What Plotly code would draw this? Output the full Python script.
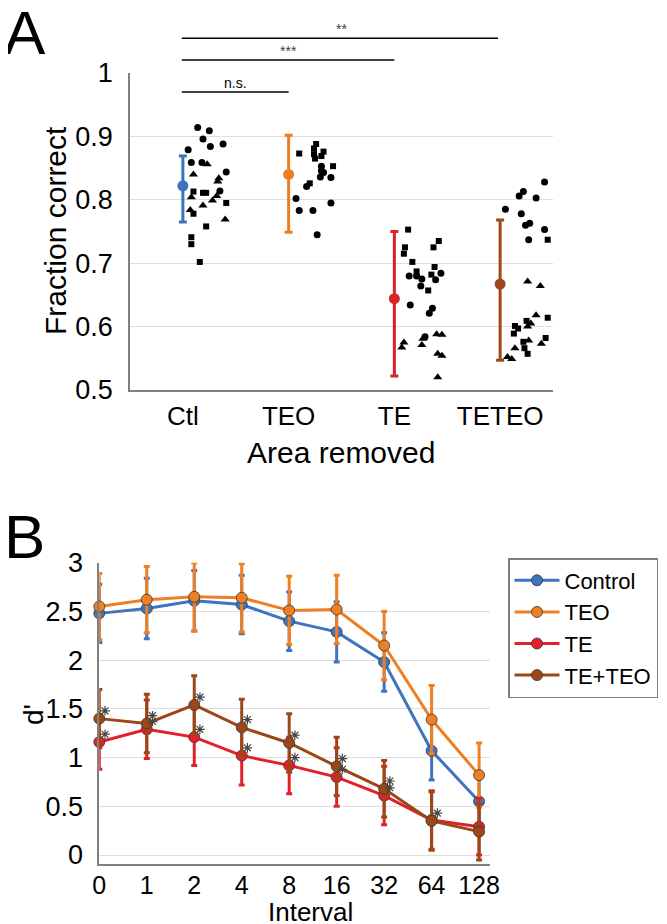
import plotly.graph_objects as go

# The page body has an 8px default margin, so the figure is drawn 8px in
# from the window's top-left corner; size it to fill the rest of the window.
PAGE_W, PAGE_H, BODY = 667, 924, 8
W, H = PAGE_W - BODY, PAGE_H - BODY
FONT = "Liberation Sans, Arial, sans-serif"

# ---------------- Panel A data ----------------
areas = ["Ctl", "TEO", "TE", "TETEO"]
area_means = [0.822, 0.840, 0.644, 0.667]
area_err_plus = [0.047, 0.062, 0.106, 0.101]
area_err_minus = [0.057, 0.091, 0.122, 0.120]
area_colors = ["#3d72bd", "#ee7d22", "#d8232a", "#a0461b"]

ctl_circle_off = [0.14, 0.25, 0.19, 0.26, 0.38, 0.05, 0.08, 0.18, 0.41, 0.35]
ctl_circle_val = [0.914, 0.909, 0.896, 0.884, 0.888, 0.879, 0.859, 0.859, 0.844, 0.814]
ctl_tri_off = [0.23, 0.10, 0.34, 0.33, 0.08, 0.32, 0.28, 0.19, 0.07, 0.40]
ctl_tri_val = [0.856, 0.840, 0.834, 0.829, 0.804, 0.806, 0.799, 0.791, 0.784, 0.769]
ctl_sq_off = [0.10, 0.19, 0.22, 0.41, 0.10, 0.22, 0.08, 0.08, 0.16]
ctl_sq_val = [0.813, 0.811, 0.811, 0.795, 0.778, 0.758, 0.741, 0.730, 0.702]

teo_sq_off = [0.26, 0.24, 0.33, 0.10, 0.24, 0.25, 0.31, 0.42, 0.20]
teo_sq_val = [0.888, 0.881, 0.876, 0.873, 0.872, 0.865, 0.869, 0.853, 0.826]
teo_circle_off = [0.31, 0.31, 0.33, 0.30, 0.40, 0.17, 0.07, 0.40, 0.10, 0.23, 0.27]
teo_circle_val = [0.853, 0.846, 0.843, 0.836, 0.835, 0.821, 0.802, 0.795, 0.783, 0.783, 0.745]

te_sq_off = [0.13, 0.10, 0.09, 0.37, 0.42, 0.17, 0.38, 0.21, 0.35, 0.32]
te_sq_val = [0.753, 0.725, 0.715, 0.725, 0.735, 0.702, 0.694, 0.687, 0.682, 0.657]
te_circle_off = [0.14, 0.21, 0.26, 0.25, 0.39, 0.44, 0.15, 0.36, 0.33, 0.29]
te_circle_val = [0.680, 0.680, 0.675, 0.664, 0.674, 0.684, 0.634, 0.629, 0.621, 0.584]
te_tri_off = [0.40, 0.45, 0.27, 0.09, 0.07, 0.26, 0.41, 0.45, 0.41]
te_tri_val = [0.588, 0.587, 0.581, 0.575, 0.567, 0.571, 0.557, 0.554, 0.520]

teteo_circle_off = [0.42, 0.22, 0.18, 0.34, 0.05, 0.20, 0.28, 0.24, 0.42, 0.27]
teteo_circle_val = [0.828, 0.813, 0.806, 0.803, 0.785, 0.778, 0.763, 0.760, 0.753, 0.737]
teteo_sq_off = [0.45, 0.45, 0.14, 0.17, 0.25, 0.13, 0.22, 0.43, 0.23, 0.26]
teteo_sq_val = [0.737, 0.614, 0.601, 0.597, 0.609, 0.589, 0.576, 0.582, 0.566, 0.557]
teteo_tri_off = [0.26, 0.38, 0.34, 0.29, 0.26, 0.27, 0.39, 0.14, 0.07, 0.11]
teteo_tri_val = [0.671, 0.664, 0.618, 0.605, 0.600, 0.578, 0.573, 0.566, 0.552, 0.549]

# significance comparisons (from category index, to category index, label)
sig_from = [0, 0, 0]
sig_to = [1, 2, 3]
sig_labels = ["n.s.", "***", "**"]

# ---------------- Panel B data ----------------
intervals = ["0", "1", "2", "4", "8", "16", "32", "64", "128"]
series_names = ["Control", "TEO", "TE", "TE+TEO"]
control = [2.48, 2.53, 2.61, 2.57, 2.40, 2.29, 1.98, 1.07, 0.55]
control_err = [0.30, 0.31, 0.31, 0.30, 0.30, 0.31, 0.30, 0.30, 0.30]
teo = [2.55, 2.62, 2.65, 2.64, 2.51, 2.52, 2.15, 1.39, 0.82]
teo_err = [0.34, 0.34, 0.35, 0.35, 0.35, 0.35, 0.35, 0.35, 0.33]
te = [1.16, 1.29, 1.21, 1.02, 0.92, 0.80, 0.61, 0.36, 0.29]
te_err = [0.28, 0.30, 0.29, 0.30, 0.29, 0.30, 0.30, 0.30, 0.29]
teteo = [1.40, 1.35, 1.54, 1.31, 1.15, 0.91, 0.68, 0.35, 0.24]
teteo_err = [0.30, 0.30, 0.30, 0.29, 0.30, 0.30, 0.29, 0.30, 0.29]
line_colors = ["#3f74c1", "#f07f22", "#e3202a", "#9c4717"]
# intervals (indices) where the lesion groups differ significantly from control
te_sig_idx = [0, 1, 2, 3, 4, 5, 6]
teteo_sig_idx = [0, 1, 2, 3, 4, 5, 6, 7]


def px_x(p):
    """page pixel x -> paper fraction"""
    return (p - BODY) / W


def px_y(p):
    """page pixel y (from top) -> paper fraction"""
    return 1 - (p - BODY) / H


fig = go.Figure()

# ---- Panel A: scatter points ----
groups = [
    (0, ctl_circle_off, ctl_circle_val, "circle", 7),
    (0, ctl_tri_off, ctl_tri_val, "triangle-up", 8),
    (0, ctl_sq_off, ctl_sq_val, "square", 6),
    (1, teo_sq_off, teo_sq_val, "square", 6),
    (1, teo_circle_off, teo_circle_val, "circle", 7),
    (2, te_sq_off, te_sq_val, "square", 6),
    (2, te_circle_off, te_circle_val, "circle", 7),
    (2, te_tri_off, te_tri_val, "triangle-up", 8),
    (3, teteo_circle_off, teteo_circle_val, "circle", 7),
    (3, teteo_sq_off, teteo_sq_val, "square", 6),
    (3, teteo_tri_off, teteo_tri_val, "triangle-up", 8),
]
for cat, offs, vals, sym, sz in groups:
    fig.add_trace(go.Scatter(
        x=[cat + o for o in offs], y=vals, mode="markers",
        marker=dict(symbol=sym, size=sz, color="black", line=dict(width=0)),
        showlegend=False, xaxis="x", yaxis="y", hoverinfo="skip"))

for i in range(len(areas)):
    fig.add_trace(go.Scatter(
        x=[i], y=[area_means[i]], mode="markers",
        marker=dict(size=11, color=area_colors[i]),
        error_y=dict(type="data", symmetric=False, array=[area_err_plus[i]],
                     arrayminus=[area_err_minus[i]], color=area_colors[i],
                     thickness=3, width=4),
        showlegend=False, xaxis="x", yaxis="y", cliponaxis=False))

# ---- Panel B: lines ----
series = [control, teo, te, teteo]
errs = [control_err, teo_err, te_err, teteo_err]
xidx = list(range(len(intervals)))
for name, vals, er, col in zip(series_names, series, errs, line_colors):
    fig.add_trace(go.Scatter(
        x=xidx, y=vals, mode="lines+markers", name=name,
        line=dict(color=col, width=3),
        marker=dict(size=11, color=col, line=dict(color="rgba(60,60,60,0.85)", width=1)),
        error_y=dict(type="data", array=er, color=col, thickness=3, width=3),
        xaxis="x2", yaxis="y2", cliponaxis=False))

star_x = [i + 0.12 for i in te_sig_idx] + [i + 0.12 for i in teteo_sig_idx]
star_y = [te[i] + 0.08 for i in te_sig_idx] + [teteo[i] + 0.08 for i in teteo_sig_idx]
fig.add_trace(go.Scatter(
    x=star_x, y=star_y, mode="markers",
    marker=dict(symbol="asterisk-open", size=8, color="#444",
                line=dict(color="#444", width=1.2)),
    showlegend=False, xaxis="x2", yaxis="y2", cliponaxis=False, hoverinfo="skip"))

# ---- significance bars panel A ----
shapes = []
annotations = []
bar_levels = [("y", 0.970), ("y domain", 1.041), ("y domain", 1.110)]
for (f, t, lab), (yr, yy) in zip(zip(sig_from, sig_to, sig_labels), bar_levels):
    shapes.append(dict(type="line", xref="x", yref=yr, x0=f - 0.01, x1=t - 0.02 * (t == 3),
                       y0=yy, y1=yy, line=dict(color="black", width=1.5)))
    annotations.append(dict(xref="x", yref=yr, x=(f + t) / 2, y=yy, text=lab,
                            showarrow=False, yanchor="bottom", yshift=-1,
                            font=dict(family=FONT, size=14,
                                      color="black" if lab == "n.s." else "#444")))

# axis titles and panel letters
annotations += [
    dict(xref="paper", yref="paper", x=0, y=1, text="A", showarrow=False,
         xanchor="left", yanchor="top", xshift=-6, yshift=12,
         font=dict(family=FONT, size=62, color="black")),
    dict(xref="paper", yref="paper", x=0, y=px_y(500), text="B", showarrow=False,
         xanchor="left", yanchor="top", xshift=-6,
         font=dict(family=FONT, size=62, color="black")),
    dict(xref="paper", yref="paper", x=px_x(55), y=px_y(231), text="Fraction correct",
         textangle=-90, showarrow=False, xanchor="center", yanchor="middle",
         font=dict(family=FONT, size=30, color="black")),
    dict(xref="paper", yref="paper", x=px_x(341), y=px_y(452), text="Area removed",
         showarrow=False, xanchor="center", yanchor="middle",
         font=dict(family=FONT, size=30, color="black")),
    dict(xref="paper", yref="paper", x=px_x(33), y=px_y(715), text="d'",
         textangle=-90, showarrow=False, xanchor="center", yanchor="middle",
         font=dict(family=FONT, size=28, color="black")),
    dict(xref="paper", yref="paper", x=px_x(310), y=0, text="Interval",
         showarrow=False, xanchor="center", yanchor="bottom", yshift=-5,
         font=dict(family=FONT, size=26, color="black")),
]

axis_common = dict(showline=True, linecolor="#808080", linewidth=1.5, zeroline=False,
                   ticks="", automargin=False)

fig.update_layout(
    width=W, height=H, margin=dict(l=0, r=0, t=0, b=0, pad=0, autoexpand=False),
    paper_bgcolor="white", plot_bgcolor="white",
    font=dict(family=FONT, color="black"),
    xaxis=dict(domain=[px_x(130), px_x(553)], range=[-0.5, 3.5], tickvals=[0, 1, 2, 3],
               ticktext=areas, showgrid=False, anchor="y", ticklabelstandoff=2,
               tickfont=dict(family=FONT, size=26, color="black"), **axis_common),
    yaxis=dict(domain=[px_y(390), px_y(73)], range=[0.5, 1.0], tickvals=[0.5, 0.6, 0.7, 0.8, 0.9, 1],
               ticktext=["0.5", "0.6", "0.7", "0.8", "0.9", "1"],
               showgrid=True, gridcolor="#dedede", gridwidth=1, anchor="x",
               ticklabelstandoff=10, tickfont=dict(family=FONT, size=27, color="black"),
               **axis_common),
    xaxis2=dict(domain=[px_x(99.3), px_x(490)], range=[0, 8.23], tickvals=xidx, ticktext=intervals,
                showgrid=False, anchor="y2", ticklabelstandoff=-2,
                tickfont=dict(family=FONT, size=25, color="black"), **axis_common),
    yaxis2=dict(domain=[px_y(864.3), px_y(562.7)], range=[-0.095, 3.0],
                tickvals=[0, 0.5, 1, 1.5, 2, 2.5, 3], ticktext=["0", "0.5", "1", "1.5", "2", "2.5", "3"],
                showgrid=True, gridcolor="#dedede", gridwidth=1, anchor="x2",
                ticklabelstandoff=9, tickfont=dict(family=FONT, size=27, color="black"),
                **axis_common),
    legend=dict(x=px_x(508), y=px_y(558), xanchor="left", yanchor="top",
                bordercolor="#7f7f7f", borderwidth=1.5, bgcolor="white",
                font=dict(family=FONT, size=22, color="black"), tracegroupgap=0,
                itemwidth=45),
    shapes=shapes, annotations=annotations,
)

fig.write_html("out.html")
